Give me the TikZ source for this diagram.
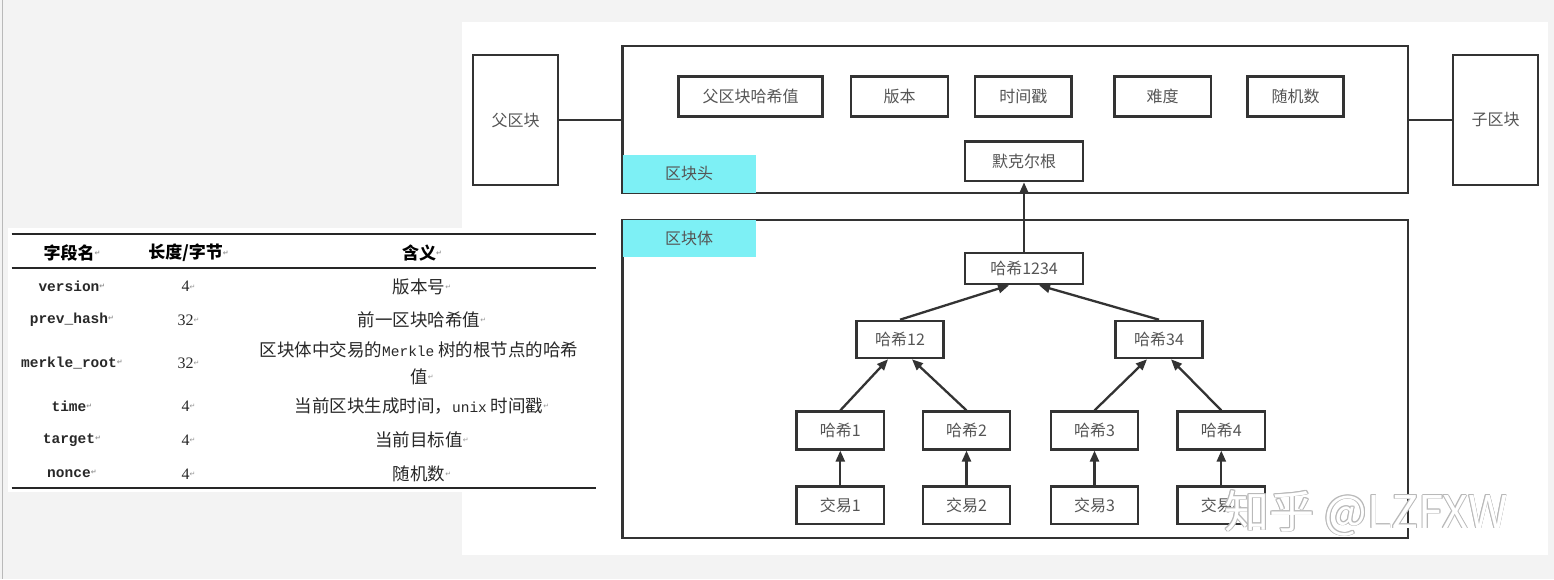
\documentclass[tikz,border=0pt]{standalone}
\usepackage{fontspec}
\setmainfont{Liberation Serif}
\newfontfamily\cjk{Noto Sans CJK SC}
\newfontfamily\monof{Liberation Mono}
\newfontfamily\dejavu{DejaVu Sans}
\usetikzlibrary{arrows.meta}
\definecolor{pagebg}{RGB}{243,243,243}
\definecolor{boxc}{RGB}{51,51,51}
\definecolor{txtc}{RGB}{85,85,85}
\definecolor{cyanlbl}{RGB}{125,240,245}
\definecolor{retc}{RGB}{150,150,150}
\definecolor{tabtxt}{RGB}{40,40,40}
\newcommand{\retmark}{\rlap{\raisebox{0.4ex}{\textcolor{retc}{\dejavu\fontsize{7}{7}\selectfont ↵}}}}
\tikzset{
  dbox/.style={draw=boxc, line width=2.6pt, fill=white, text=txtc,
    font=\cjk\fontsize{16}{16}\selectfont, inner sep=0pt},
  cyanbox/.style={fill=cyanlbl, draw=none, text=txtc,
    font=\cjk\fontsize{16}{16}\selectfont, inner sep=0pt,
    minimum width=133pt},
  conn/.style={draw=boxc, line width=2.6pt},
  arr/.style={draw=boxc, line width=2.3pt, -{Triangle[length=11pt,width=9pt]}},
  thead/.style={font=\cjk\bfseries\fontsize{17}{17}\selectfont, text=black, inner sep=0pt},
  tfield/.style={font=\monof\bfseries\fontsize{14.5}{14.5}\selectfont, text=tabtxt, inner sep=0pt},
  tnum/.style={font=\fontsize{16}{16}\selectfont, text=tabtxt, inner sep=0pt},
  tmean/.style={font=\cjk\fontsize{17.5}{26.7}\selectfont, text=tabtxt, inner sep=0pt, align=center},
  wmark/.style={font=\cjk\fontsize{45}{45}\selectfont, inner sep=0pt}
}
\begin{document}
\begin{tikzpicture}[x=1pt,y=-1pt]
\useasboundingbox (0,0) rectangle (1554,579);
% background
\fill[pagebg] (0,0) rectangle (1554,579);
\draw[draw=gray!55, line width=1.5pt] (2.5,0) -- (2.5,579);
\fill[white] (462,22) rectangle (1548,555);
\fill[white] (8,228) rectangle (600,492);

% ---------- table ----------
\draw[line width=2pt, black!85] (11.5,234) -- (596,234);
\draw[line width=1.2pt, black!85] (11.5,268) -- (596,268);
\draw[line width=2pt, black!85] (11.5,488) -- (596,488);

\node[thead] (th1) at (69,253) {字段名\retmark};
\node[thead] (th2) at (185.6,253) {长度/字节\retmark};
\node[thead] (th3) at (419,253) {含义\retmark};

\node[tfield] (f1) at (69,286.7) {version\retmark};
\node[tnum]   (l1) at (185.6,286.7) {4\retmark};
\node[tmean]  (m1) at (419,286.7) {版本号\retmark};

\node[tfield] (f2) at (69,320) {prev\_hash\retmark};
\node[tnum]   (l2) at (185.6,320) {32\retmark};
\node[tmean]  (m2) at (419,320) {前一区块哈希值\retmark};

\node[tfield] (f3) at (69,363) {merkle\_root\retmark};
\node[tnum]   (l3) at (185.6,363) {32\retmark};
\node[tmean]  (m3) at (419,363) {区块体中交易的{\monof\fontsize{14.5}{26.7}\selectfont Merkle} 树的根节点的哈希\\值\retmark};

\node[tfield] (f4) at (69,406) {time\retmark};
\node[tnum]   (l4) at (185.6,406) {4\retmark};
\node[tmean]  (m4) at (419,406) {当前区块生成时间，{\monof\fontsize{14.5}{26.7}\selectfont unix} 时间戳\retmark};

\node[tfield] (f5) at (69,440) {target\retmark};
\node[tnum]   (l5) at (185.6,440) {4\retmark};
\node[tmean]  (m5) at (419,440) {当前目标值\retmark};

\node[tfield] (f6) at (69,474) {nonce\retmark};
\node[tnum]   (l6) at (185.6,474) {4\retmark};
\node[tmean]  (m6) at (419,474) {随机数\retmark};

% ---------- blocks ----------
\node[dbox, minimum width=85pt, minimum height=130pt] (par) at (515.5,120) {父区块};
\node[dbox, minimum width=85pt, minimum height=130pt] (chd) at (1495.5,120) {子区块};
\node[dbox, minimum width=785.5pt, minimum height=147pt] (hdr) at (1015.25,119.5) {};
\node[dbox, minimum width=785.5pt, minimum height=318pt] (bdy) at (1015.25,379) {};

\draw[conn] (par.east) -- (par.east -| hdr.west);
\draw[conn] (chd.west) -- (chd.west -| hdr.east);

\node[cyanbox, minimum height=38pt] (hlbl) at (689.1,174) {区块头};
\node[cyanbox, minimum height=37pt] (blbl) at (689.1,238.5) {区块体};

% header fields
\node[dbox, minimum width=144pt, minimum height=40pt] (fph) at (750.5,96.7) {父区块哈希值};
\node[dbox, minimum width=97pt, minimum height=40pt] (ver) at (899.5,96.7) {版本};
\node[dbox, minimum width=96.7pt, minimum height=40pt] (tms) at (1023.3,96.7) {时间戳};
\node[dbox, minimum width=96.5pt, minimum height=40pt] (dif) at (1162.7,96.7) {难度};
\node[dbox, minimum width=96pt, minimum height=40pt] (non) at (1295.5,96.7) {随机数};
\node[dbox, minimum width=118pt, minimum height=39.5pt] (mrk) at (1024,161.3) {默克尔根};

% merkle tree
\node[dbox, minimum width=118.3pt, minimum height=31pt] (h1234) at (1024,268.5) {哈希1234};
\node[dbox, minimum width=86.7pt, minimum height=37pt] (h12) at (900,339.5) {哈希12};
\node[dbox, minimum width=86.7pt, minimum height=37pt] (h34) at (1159,339.5) {哈希34};
\node[dbox, minimum width=87.3pt, minimum height=37.6pt] (h1) at (840.3,430.5) {哈希1};
\node[dbox, minimum width=87.3pt, minimum height=37.6pt] (h2) at (966.5,430.5) {哈希2};
\node[dbox, minimum width=87.3pt, minimum height=37.6pt] (h3) at (1094.5,430.5) {哈希3};
\node[dbox, minimum width=87.3pt, minimum height=37.6pt] (h4) at (1221.3,430.5) {哈希4};
\node[dbox, minimum width=87.3pt, minimum height=37.3pt] (t1) at (840.3,505.3) {交易1};
\node[dbox, minimum width=87.3pt, minimum height=37.3pt] (t2) at (966.5,505.3) {交易2};
\node[dbox, minimum width=87.3pt, minimum height=37.3pt] (t3) at (1094.5,505.3) {交易3};
\node[dbox, minimum width=87.3pt, minimum height=37.3pt] (t4) at (1221.3,505.3) {交易4};

\draw[arr] (h1234.north) -- (mrk.south);
\draw[arr] (h12.north) -- ([xshift=-15pt]h1234.south);
\draw[arr] (h34.north) -- ([xshift=15pt]h1234.south);
\draw[arr] (h1.north) -- ([xshift=-12pt]h12.south);
\draw[arr] (h2.north) -- ([xshift=12pt]h12.south);
\draw[arr] (h3.north) -- ([xshift=-12pt]h34.south);
\draw[arr] (h4.north) -- ([xshift=12pt]h34.south);
\draw[arr] (t1.north) -- (h1.south);
\draw[arr] (t2.north) -- (h2.south);
\draw[arr] (t3.north) -- (h3.south);
\draw[arr] (t4.north) -- (h4.south);

% watermark
\foreach \dx/\dy in {-0.8/0,0.8/0,0/-0.8,0/0.8,0.6/0.6,-0.6/-0.6,0.6/-0.6,-0.6/0.6}{
  \node[wmark, text=gray!55] at (1366+\dx,513+\dy) {知乎 @LZFXW};
}
\node[wmark, text=white] (wm) at (1366,513) {知乎 @LZFXW};
\end{tikzpicture}
\end{document}
